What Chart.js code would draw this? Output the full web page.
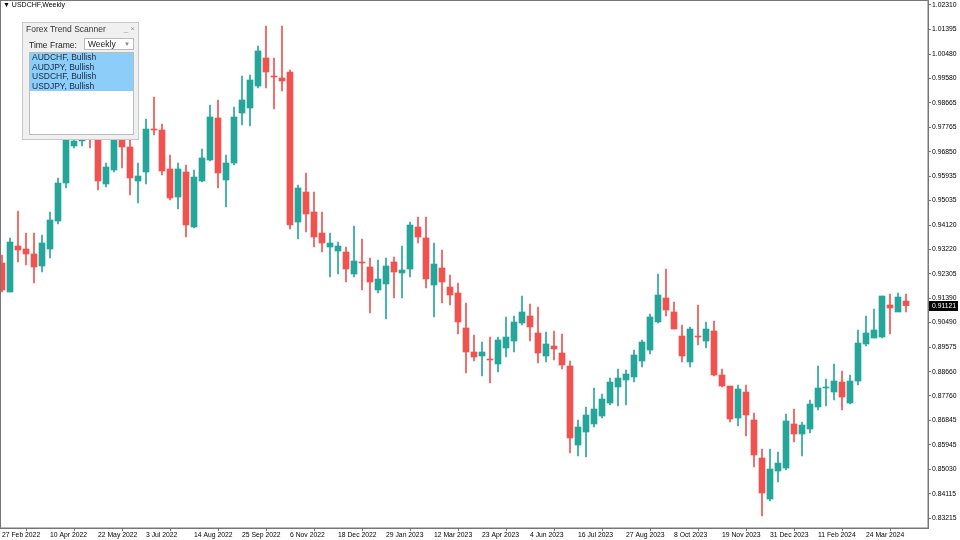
<!DOCTYPE html>
<html><head><meta charset="utf-8">
<script src="https://cdn.jsdelivr.net/npm/chart.js@4"></script>
<style>
html,body{margin:0;padding:0;background:#fff;}
#wrap{position:relative;width:960px;height:540px;}
#title{position:absolute;left:3px;top:1px;font:7px "Liberation Sans",sans-serif;color:#000;}
#panel{position:absolute;left:22px;top:22px;width:117px;height:118px;background:#f0f0f0;border:1px solid #c8c8c8;box-sizing:border-box;font:8.5px "Liberation Sans",sans-serif;color:#222;}
#panel .hd{height:11px;padding:1px 3px;font-size:8.5px;line-height:11px;position:relative;color:#333}
#panel .hd span{position:absolute;right:3px;top:0;color:#999;font-size:8px}
#panel .tf{position:absolute;left:6px;top:17px;font-size:8.5px}
#panel .sel{position:absolute;left:61px;top:15px;width:50px;height:12px;border:1px solid #bbb;background:#fff;font-size:8.5px;line-height:11px;padding-left:3px;box-sizing:border-box}
#panel .sel i{position:absolute;right:3px;top:0;font-style:normal;font-size:6px;color:#888}
#panel .lst{position:absolute;left:6px;top:29px;width:105px;height:83px;border:1px solid #bbb;background:#fff;box-sizing:border-box}
#panel .lst div{background:#8ccdfa;padding-left:2px;height:9.5px;line-height:9.5px;font-size:8.5px;color:#1a2a40}
</style></head>
<body><div id="wrap"><canvas id="c" width="960" height="540"></canvas>
<div id="title">&#9660; USDCHF,Weekly</div>
<div id="panel"><div class="hd">Forex Trend Scanner<span>_ &times;</span></div>
<div class="tf">Time Frame:</div><div class="sel">Weekly<i>&#9660;</i></div>
<div class="lst"><div>AUDCHF, Bullish</div><div>AUDJPY, Bullish</div><div>USDCHF, Bullish</div><div>USDJPY, Bullish</div></div></div>
</div>
<script>
const opens=[0.92707,0.91627,0.93339,0.93228,0.93042,0.92595,0.93228,0.94270,0.95684,0.97062,0.97248,0.97471,0.97359,0.95647,0.96168,0.97285,0.97024,0.95759,0.96094,0.97694,0.97657,0.96206,0.95163,0.96094,0.94047,0.95759,0.96541,0.98104,0.95796,0.96429,0.98290,0.98476,0.99295,1.00337,0.99667,0.99593,0.99816,0.94233,0.95349,0.94605,0.93823,0.93302,0.93153,0.93116,0.92297,0.92744,0.92558,0.91702,0.91925,0.92744,0.92334,0.92483,0.94047,0.93637,0.91888,0.92520,0.91813,0.91590,0.90287,0.89394,0.89245,0.89133,0.88947,0.89543,0.89803,0.90473,0.90734,0.90101,0.89245,0.89617,0.89357,0.88873,0.85932,0.86416,0.86714,0.87012,0.87496,0.88091,0.88352,0.88463,0.89059,0.89468,0.90511,0.91404,0.90883,0.89989,0.89022,0.89989,0.89803,0.90176,0.88538,0.88128,0.86937,0.87905,0.86863,0.85448,0.83922,0.84964,0.85076,0.86714,0.86342,0.86528,0.87347,0.88054,0.87905,0.88277,0.87496,0.88314,0.89692,0.89915,0.89952,0.91143,0.90883,0.91292];
const highs=[0.93004,0.93637,0.94642,0.93823,0.93823,0.93749,0.94605,0.95871,0.97583,0.97657,0.97843,0.98029,0.97657,0.96429,0.97843,0.97657,0.97285,0.96429,0.98067,0.98886,0.97881,0.96727,0.96429,0.96354,0.96168,0.96950,0.98588,0.98774,0.96727,0.98513,0.99667,0.99704,1.00784,1.01528,1.00337,1.01528,0.99891,0.95610,0.96057,0.95349,0.94605,0.93823,0.93488,0.93302,0.94084,0.93600,0.92893,0.92818,0.92893,0.92930,0.93339,0.94233,0.94419,0.94419,0.93451,0.93191,0.92260,0.91962,0.91218,0.90027,0.89766,0.89952,0.89952,0.90697,0.90734,0.91478,0.91181,0.91069,0.90138,0.90176,0.90064,0.89059,0.86863,0.87347,0.88054,0.87831,0.88426,0.88761,0.88724,0.89468,0.89841,0.90808,0.92297,0.92483,0.91255,0.90399,0.90324,0.91143,0.90511,0.90548,0.88761,0.87905,0.88166,0.88166,0.87123,0.85783,0.85783,0.85672,0.87086,0.87272,0.86788,0.87607,0.88873,0.88389,0.88947,0.88687,0.88538,0.90213,0.90734,0.90994,0.91478,0.91553,0.91590,0.91553];
const lows=[0.91627,0.91627,0.92744,0.92632,0.91962,0.92372,0.92893,0.94158,0.95498,0.96987,0.97062,0.96987,0.95424,0.95536,0.96094,0.96243,0.95238,0.94940,0.95647,0.97471,0.95982,0.95052,0.94717,0.93674,0.94009,0.95722,0.96503,0.95498,0.94791,0.96354,0.97843,0.97806,0.99221,0.99221,0.98439,0.99109,0.93972,0.93600,0.93861,0.93302,0.93116,0.92186,0.92297,0.91999,0.92186,0.91702,0.90846,0.91590,0.90622,0.91404,0.91404,0.92186,0.93451,0.91776,0.90697,0.91218,0.91143,0.90064,0.88612,0.89059,0.88501,0.88240,0.88649,0.89208,0.89394,0.90399,0.89803,0.88984,0.89022,0.89096,0.88761,0.85634,0.85523,0.85486,0.86602,0.86937,0.87421,0.87384,0.87421,0.88277,0.88836,0.89319,0.90473,0.90734,0.90250,0.89022,0.88836,0.89654,0.89543,0.88501,0.88091,0.86788,0.86639,0.86267,0.85113,0.83289,0.83848,0.84555,0.85002,0.86044,0.85523,0.86379,0.87235,0.87384,0.87607,0.87235,0.87458,0.88166,0.89617,0.89915,0.89915,0.90064,0.91069,0.90883];
const closes=[0.91702,0.93488,0.93191,0.93042,0.92558,0.93451,0.94307,0.95684,0.97359,0.97248,0.97471,0.97359,0.95759,0.96280,0.97657,0.97024,0.95871,0.95945,0.97694,0.97657,0.96131,0.95126,0.96206,0.94121,0.95908,0.96615,0.98141,0.96057,0.96429,0.98141,0.98774,0.99518,1.00598,0.99816,0.99630,0.99481,0.94121,0.95498,0.94531,0.93674,0.93451,0.93451,0.93339,0.92483,0.92781,0.92707,0.91999,0.92111,0.92595,0.92372,0.92446,0.94121,0.93674,0.92111,0.92669,0.91999,0.91516,0.90511,0.89394,0.89208,0.89394,0.89096,0.89841,0.89952,0.90511,0.90883,0.90324,0.89357,0.89692,0.89506,0.88910,0.86193,0.86602,0.87049,0.87272,0.87644,0.88277,0.88426,0.88575,0.89282,0.89766,0.90697,0.91516,0.90957,0.90250,0.89245,0.90250,0.89952,0.90250,0.88538,0.88128,0.86900,0.88017,0.87049,0.85560,0.84146,0.85039,0.85262,0.86826,0.86342,0.86677,0.87458,0.88054,0.88091,0.88314,0.87719,0.88314,0.89729,0.90101,0.90213,0.91478,0.91032,0.91441,0.91121];
const dateLabels=["27 Feb 2022","10 Apr 2022","22 May 2022","3 Jul 2022","14 Aug 2022","25 Sep 2022","6 Nov 2022","18 Dec 2022","29 Jan 2023","12 Mar 2023","23 Apr 2023","4 Jun 2023","16 Jul 2023","27 Aug 2023","8 Oct 2023","19 Nov 2023","31 Dec 2023","11 Feb 2024","24 Mar 2024"];
const priceTicks=[1.02310,1.01395,1.00480,0.99580,0.98665,0.97765,0.96850,0.95935,0.95035,0.94120,0.93220,0.92305,0.91390,0.90490,0.89575,0.88660,0.87760,0.86845,0.85945,0.85030,0.84115,0.83215];
const labelEvery=6;

const UP='#26a69a', DN='#ef5350';
const idx=opens.map((_,i)=>i);
const col=ctx=>{const i=ctx.dataIndex;return closes[i]>=opens[i]?UP:DN;};
const wickData=idx.map(i=>({x:i,y:[lows[i],highs[i]]}));
const bodyData=idx.map(i=>({x:i,y:[opens[i],closes[i]]}));
const FONT={family:'"Liberation Sans", sans-serif',size:6.8};

const extras={id:'extras',afterDraw(ch){
  const c=ch.ctx,a=ch.chartArea,y=ch.scales.y;
  c.save();c.strokeStyle='#777';c.lineWidth=1;
  c.strokeRect(0.5,0.5,a.right-0.5,a.bottom-0.5);
  const last=closes[closes.length-1];const py=Math.round(y.getPixelForValue(last));
  c.fillStyle='#000';c.fillRect(a.right+1,py-5,29,10);
  c.fillStyle='#fff';c.font='6.8px "Liberation Sans", sans-serif';c.textBaseline='middle';
  c.fillText(last.toFixed(5),a.right+4,py);
  c.restore();
}};

new Chart(document.getElementById('c'),{
  type:'bar',
  data:{datasets:[
    {data:wickData,backgroundColor:col,barThickness:1,grouped:false,order:2,minBarLength:1},
    {data:bodyData,backgroundColor:col,barThickness:6,grouped:false,order:1,minBarLength:1}
  ]},
  options:{
    responsive:false,animation:false,
    layout:{padding:0},
    plugins:{legend:{display:false},tooltip:{enabled:false}},
    scales:{
      x:{type:'linear',min:-0.25,max:115.75,offset:false,
        afterBuildTicks(s){s.ticks=dateLabels.map((_,k)=>({value:k*labelEvery}));},
        afterFit(s){s.height=12;s.paddingLeft=0;s.paddingRight=0;},
        grid:{display:true,drawOnChartArea:false,tickLength:3,color:'#777'},
        border:{display:true,color:'#777'},
        ticks:{autoSkip:false,maxRotation:0,align:'start',padding:0,color:'#000',font:FONT,
          callback:(v)=>dateLabels[Math.round(v/labelEvery)]}
      },
      y:{position:'right',min:0.82843,max:1.02496,
        afterBuildTicks(s){s.ticks=priceTicks.map(v=>({value:v}));},
        afterFit(s){s.width=32;s.paddingTop=0;s.paddingBottom=0;},
        grid:{display:true,drawOnChartArea:false,tickLength:3,color:'#777'},
        border:{display:true,color:'#777'},
        ticks:{autoSkip:false,padding:1,color:'#000',font:FONT,callback:v=>v.toFixed(5)}
      }
    }
  },
  plugins:[extras]
});
</script></body></html>
